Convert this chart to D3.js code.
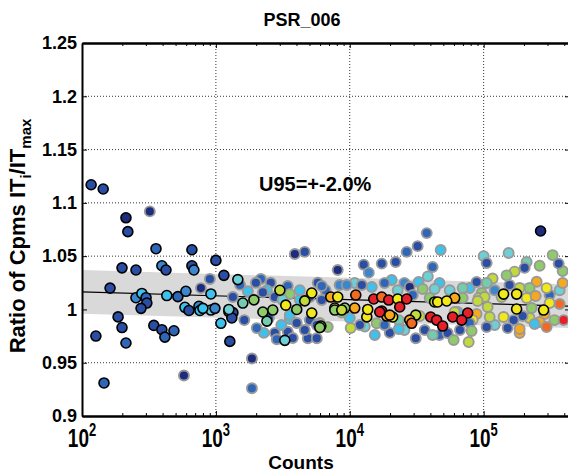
<!DOCTYPE html>
<html>
<head>
<meta charset="utf-8">
<script src="https://cdn.jsdelivr.net/npm/d3@7"></script>
<style>
  body { margin: 0; background: #fff; }
  text { font-family: Arial, "Liberation Sans", sans-serif; font-weight: bold; }
</style>
</head>
<body>
<svg id="chart" width="568" height="473"></svg>
<script>
// colour index -> jet-like colour used for each marker
const jetColours = ['#1d2c7c','#2a4ea3','#3066b8','#3b86cc','#3ec1ec','#6fcfd6','#72cdb0','#8fcb6a','#c3da3c','#f2e91b','#f8a81f','#f26a22','#e5202a'];

// [counts, ratio, colour index], markers with grey edge
const greyEdgePts = [
  [321,1.092,0],[773,1.020,0],[577,0.938,0],[1858,0.954,0],[1858,0.926,2],
  [3890,1.052,0],[4610,1.054,1],[902,1.0286,1],[2168,1.0286,2],[2570,1.025,1],[3443,1.022,2],[5770,1.025,1],
  [2404,1.018,4],[1340,1.0116,1],[1734,1.017,4],[2244,1.016,1],[3565,1.0144,7],[4236,1.009,4],[2281,0.978,4],
  [2754,0.978,1],[3443,0.979,1],[2851,0.972,2],[3565,0.991,4],[5025,0.990,1],[4861,0.973,1],[5672,0.973,1],
  [1516,1.023,2],[1990,1.025,1],[2754,1.0116,1],[3150,1.0088,5],[4236,1.018,4],[5025,1.0116,1],[6180,1.0088,1],
  [6600,1.018,2],[2490,0.9919,1],[3080,0.9854,4],[4610,0.9807,1],[1630,0.990,1],[2020,0.9825,2],[3750,0.9732,1],
  [8130,1.037,0],[12710,1.042,1],[17330,1.043,1],[22030,1.0445,1],[26610,1.054,2],[13870,1.0345,3],[20560,1.0276,4],
  [5970,0.9872,7],[6850,0.9835,7],[12950,0.984,5],[15890,0.987,7],[15380,0.976,4],[19900,0.978,1],[23600,0.983,6],
  [8400,1.0229,3],[10890,1.0248,5],[14600,1.021,4],[18200,1.0248,2],[22800,1.018,5],[25600,1.0248,3],[38300,1.031,5],
  [46800,1.0248,4],[10000,0.992,4],[11900,0.9854,1],[18200,0.9854,2],[25600,0.9807,5],[36300,0.9807,1],[46800,0.976,2],
  [37570,1.0716,2],[32140,1.0594,1],[47750,1.0557,4],[28050,1.021,0],[32700,1.0257,4],[35060,1.0191,7],[43050,1.0191,5],
  [39560,1.0107,7],[33280,0.9938,8],[23220,0.990,6],[23220,0.9816,4],[31110,0.973,1],[41580,0.976,6],[10160,0.9826,8],
  [8710,0.997,7],[6180,1.022,2],[9500,1.0229,3],[12300,1.0229,1],[29530,1.0135,2],[41580,1.0398,2],
  [55800,1.018,5],[78640,1.0201,4],[121000,1.018,3],[156000,1.0229,1],[311000,1.0135,2],[369600,1.018,5],
  [64000,0.9976,4],[121000,0.9854,5],[220400,0.992,8],[338000,0.990,7],[66500,0.9807,1],
  [100000,1.050,5],[153700,1.053,5],[327500,1.051,7],[209500,1.0445,6],[261900,1.041,7],[202400,1.039,1],
  [389100,1.036,7],[363400,1.043,1],[105300,1.0435,1],[170300,1.0355,8],[148500,1.032,7],[116700,1.029,8],
  [105300,1.0248,6],[88600,1.0257,1],[248800,1.026,10],[295300,1.020,9],[389100,1.0248,10],[185700,1.0201,8],
  [220400,1.0201,7],[209500,1.0107,9],[244500,1.0126,10],[136200,1.0116,8],[96600,1.0154,7],[91700,1.0107,8],
  [101700,1.0116,8],[69700,1.0201,6],[69700,1.0107,7],[90100,1.0079,8],[107100,1.0023,8],[228200,1.0013,7],
  [285300,0.9957,10],[369600,1.0051,11],[311000,1.006,9],[60770,0.9976,8],[88600,0.9957,10],[110900,0.9929,8],
  [140900,0.9929,9],[82700,0.990,9],[261900,0.9882,10],[295300,0.9835,11],[395800,0.990,12],[195500,0.9938,1],
  [167500,0.990,1],[151100,0.9825,1],[105300,0.9835,1],[78640,0.9872,2],[240400,0.9863,4],[53870,0.9779,1],
  [81300,0.9797,7],[185700,0.9779,10],[185700,0.9816,10],[59730,0.9713,7],[77300,0.9695,8],
  [3565,0.9947,4],[4018,0.9872,1],[5672,0.9854,1]
];

// markers with black edge (drawn on top)
const blackEdgePts = [
  [117,1.117,1],[144,1.113,1],[213,1.086,0],[220,1.073,1],[357,1.057,2],[662,1.056,1],[1000,1.046,1],
  [199,1.039,1],[253,1.037,1],[395,1.041,3],[424,1.037,1],[662,1.041,1],[685,1.037,3],[1148,1.032,1],
  [1459,1.028,5],[162,1.020,1],[253,1.011,3],[280,1.015,4],[301,1.011,2],[305,1.006,1],[276,1.001,1],
  [430,1.013,4],[520,1.012,2],[597,1.017,3],[918,1.0145,4],[587,1.002,4],[629,0.999,1],[747,1.003,3],
  [760,0.999,4],[918,0.9994,5],[984,1.001,3],[1090,0.987,4],[1250,0.998,6],[1340,0.997,1],[1315,0.992,1],
  [186,0.993,1],[199,0.983,1],[127,0.975,1],[213,0.9685,2],[344,0.985,1],[395,0.981,1],[416,0.974,2],
  [486,0.980,2],[1271,0.970,1],[146,0.931,2],
  [3006,1.018,8],[1589,1.006,6],[1923,1.009,7],[5200,1.0154,9],[4610,1.008,8],[3327,1.004,9],[4018,1.000,7],
  [5200,0.9966,9],[2244,0.9976,7],[2660,0.9994,7],[2404,0.989,6],[1250,1.000,5],[800,1.001,4],[3273,0.971,5],
  [6080,0.9844,7],[5970,0.983,7],
  [7210,1.0116,10],[8130,1.0116,9],[11090,1.0135,11],[15100,1.0098,12],[17330,1.0116,11],[19540,1.0088,12],
  [22800,1.0098,9],[26610,1.0098,12],[7730,1.0013,8],[9180,1.0013,7],[10890,1.0013,10],[13400,0.993,9],
  [17330,0.9985,12],[18880,0.9938,10],[20920,0.9929,9],
  [7730,0.9994,7],[8710,0.9994,8],[31110,0.9947,8],[43050,1.007,8],
  [45370,1.007,9],[23600,1.0023,12],[16750,0.9976,12],[19900,0.9947,10],[28050,0.990,10],[29040,0.987,11],
  [40200,0.9929,12],[44550,0.990,12],[49430,0.9844,12],[13620,1.000,9],
  [266300,1.0736,0],[176300,1.0144,9],[140900,1.0144,9],[60770,1.0107,10],[52960,1.0079,9],[176300,1.0004,9],
  [280500,0.9994,9],[76000,0.9966,12],[58730,0.9929,12],[68540,0.990,12]
];

// fitted line and its 95% band, at the two ends of the count range
const fitCounts = [100, 441000];
const fitRatio  = [1.0164, 1.0031];
const bandUpper = [1.0369, 1.0236];
const bandLower = [0.9959, 0.9826];

const xMajor = [1e2, 1e3, 1e4, 1e5];
const yTicks = [0.9, 0.95, 1, 1.05, 1.1, 1.15, 1.2, 1.25];

const svg = d3.select('#chart');
const plotL = 82, plotR = 570, plotT = 43, plotB = 416;

const x = d3.scaleLog().domain([100, Math.pow(10, 5.645)]).range([plotL, plotR]);
const y = d3.scaleLinear().domain([0.9, 1.25]).range([plotB, plotT]);

// minor log ticks 2..9 in every decade
let xMinor = [];
for (let e = 2; e <= 5; e++) {
  for (let m = 2; m <= 9; m++) {
    let v = m * Math.pow(10, e);
    if (v < x.domain()[1]) xMinor.push(v);
  }
}

// dotted grid
svg.append('g').selectAll('line').data(xMajor.slice(1)).join('line')
  .attr('x1', d => x(d)).attr('x2', d => x(d)).attr('y1', plotT).attr('y2', plotB)
  .attr('stroke', '#000').attr('stroke-width', 0.8).attr('stroke-dasharray', '1,2');
svg.append('g').selectAll('line').data(yTicks.slice(1, -1)).join('line')
  .attr('x1', plotL).attr('x2', plotR).attr('y1', d => y(d)).attr('y2', d => y(d))
  .attr('stroke', '#000').attr('stroke-width', 0.8).attr('stroke-dasharray', '1,2');

// grey band
const bandPts = fitCounts.map((c, i) => [x(c), y(bandUpper[i])])
  .concat(fitCounts.map((c, i) => [x(c), y(bandLower[i])]).reverse());
svg.append('path')
  .attr('d', d3.line()(bandPts) + 'Z')
  .attr('fill', '#d9d9d9');

// fitted line
svg.append('path')
  .attr('d', d3.line()(fitCounts.map((c, i) => [x(c), y(fitRatio[i])])))
  .attr('fill', 'none').attr('stroke', '#000').attr('stroke-width', 1.2);

// markers
function drawPts(pts, edge, w) {
  svg.append('g').selectAll('circle').data(pts).join('circle')
    .attr('cx', d => x(d[0]))
    .attr('cy', d => y(d[1]))
    .attr('r', 5)
    .attr('fill', d => jetColours[d[2]])
    .attr('stroke', edge)
    .attr('stroke-width', w);
}
drawPts(greyEdgePts, '#999', 1.9);
drawPts(blackEdgePts, '#000', 1.6);

// axes, ticks pointing inward
function styleAxis(g) {
  g.select('.domain').attr('stroke-width', 2);
  g.selectAll('.tick line').attr('stroke-width', 1);
}
svg.append('g').attr('transform', `translate(0,${plotB})`)
  .call(d3.axisBottom(x).tickValues(xMinor).tickSize(-3).tickSizeOuter(0).tickFormat(''))
  .call(styleAxis);
svg.append('g').attr('transform', `translate(0,${plotB})`)
  .call(d3.axisBottom(x).tickValues(xMajor).tickSize(-5).tickSizeOuter(0).tickFormat(''))
  .call(styleAxis);
svg.append('g').attr('transform', `translate(0,${plotT})`)
  .call(d3.axisTop(x).tickValues(xMinor).tickSize(-3).tickSizeOuter(0).tickFormat(''))
  .call(styleAxis);
svg.append('g').attr('transform', `translate(0,${plotT})`)
  .call(d3.axisTop(x).tickValues(xMajor).tickSize(-5).tickSizeOuter(0).tickFormat(''))
  .call(styleAxis);
svg.append('g').attr('transform', `translate(${plotR},0)`)
  .call(d3.axisRight(y).tickValues(yTicks).tickSize(-5).tickSizeOuter(0).tickFormat(''))
  .call(styleAxis);

const yAxis = svg.append('g').attr('transform', `translate(${plotL},0)`)
  .call(d3.axisLeft(y).tickValues(yTicks).tickSize(-5).tickSizeOuter(0).tickPadding(5)
    .tickFormat(d => String(+d.toFixed(2))))
  .call(styleAxis);
yAxis.selectAll('text').attr('font-size', 18).attr('fill', '#000')
  .style('font-family', 'Arial, "Liberation Sans", sans-serif').style('font-weight', 'bold');

// x tick labels 10^n (taller glyphs as in the original)
const xl = svg.append('g').selectAll('text').data(xMajor).join('text')
  .attr('transform', d => `translate(${x(d)},447) scale(1,1.35)`)
  .attr('text-anchor', 'middle').attr('font-size', 19);
xl.append('tspan').text('10');
xl.append('tspan').attr('dy', -8).attr('font-size', 13).text(d => Math.round(Math.log10(d)));

// titles
svg.append('text').attr('x', 302).attr('y', 26).attr('text-anchor', 'middle')
  .attr('font-size', 18).text('PSR_006');
svg.append('text').attr('x', 301).attr('y', 469).attr('text-anchor', 'middle')
  .attr('font-size', 19).text('Counts');
svg.append('text').attr('x', 259).attr('y', 191).attr('font-size', 20).text('U95=+-2.0%');

const yl = svg.append('text').attr('transform', 'translate(25,236) rotate(-90)')
  .attr('text-anchor', 'middle').attr('font-size', 22);
yl.append('tspan').text('Ratio of Cpms IT');
yl.append('tspan').attr('dy', 6).attr('font-size', 15).text('i');
yl.append('tspan').attr('dy', -6).text('/IT');
yl.append('tspan').attr('dy', 6).attr('font-size', 15).text('max');
</script>
</body>
</html>
